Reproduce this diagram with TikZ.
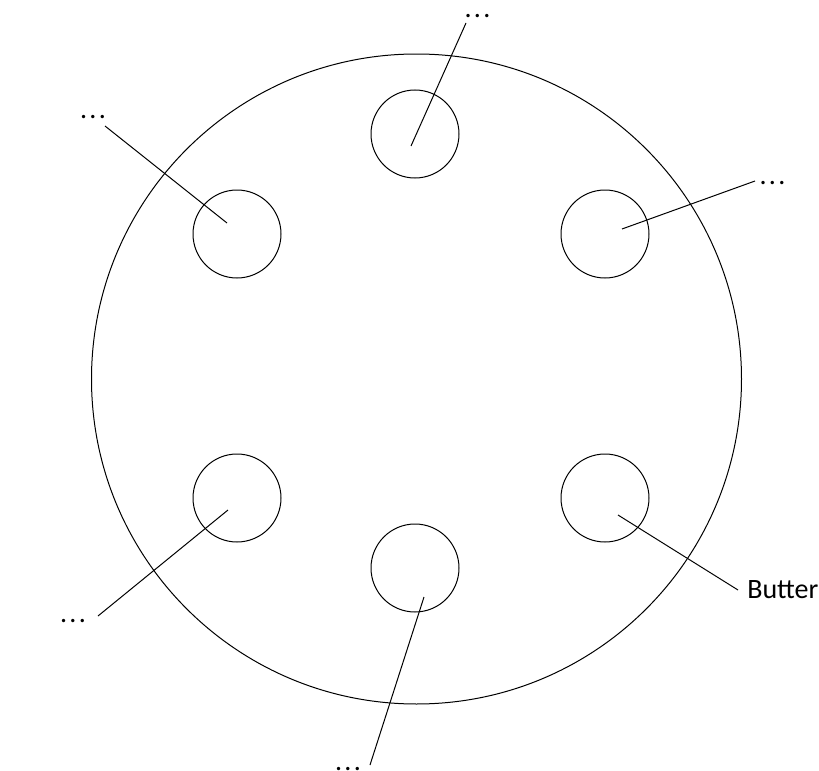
\documentclass[tikz,border=0pt]{standalone}
\usepackage{fontspec}
\setmainfont{Carlito}
\usetikzlibrary{positioning}

\newcommand{\moredots}{.\hspace{1.7pt}.\hspace{1.7pt}.}

\tikzset{
  bowl/.style={circle, draw, line width=0.75pt, minimum size=66pt, inner sep=0pt},
  tag/.style={inner sep=0pt, font=\fontsize{21}{25}\selectfont},
  leader/.style={line width=0.75pt}
}

\begin{document}
\begin{tikzpicture}[x=0.75pt,y=-0.75pt]
\useasboundingbox (0,0) rectangle (819,771);
% plate
\node[circle, draw, line width=0.75pt, minimum size=487.5pt, inner sep=0pt] (plate) at (416.5,379) {};
% small bowls
\node[bowl] (bowlA) at (237,234) {};
\node[bowl] (bowlB) at (415,134) {};
\node[bowl] (bowlC) at (605,234) {};
\node[bowl] (bowlD) at (605,498) {};
\node[bowl] (bowlE) at (237,498) {};
\node[bowl] (bowlF) at (415,568) {};
% labels
\node[tag, anchor=base] (labA) at (93,118.5) {\moredots};
\node[tag, anchor=base] (labB) at (477.5,17.5) {\moredots};
\node[tag, anchor=base] (labC) at (772.5,184.5) {\moredots};
\node[tag, anchor=base west] (labD) at (747,598) {Butter};
\node[tag, anchor=base] (labE) at (73,622.5) {\moredots};
\node[tag, anchor=base] (labF) at (348,770.5) {\moredots};
% leader ends
\coordinate (pA) at (227,223);  \coordinate (qA) at (105,126);
\coordinate (pB) at (411,146);  \coordinate (qB) at (466,23);
\coordinate (pC) at (622,229);  \coordinate (qC) at (755,181);
\coordinate (pD) at (618,515);  \coordinate (qD) at (738,590);
\coordinate (pE) at (228,510);  \coordinate (qE) at (98,616);
\coordinate (pF) at (424,597);  \coordinate (qF) at (370,765);
\foreach \k in {A,B,C,D,E,F}
  \draw[leader] (p\k) -- (q\k);
\end{tikzpicture}
\end{document}
